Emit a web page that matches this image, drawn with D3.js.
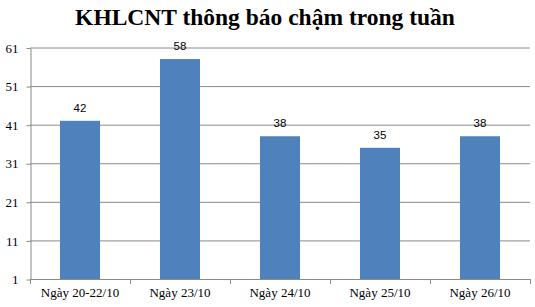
<!DOCTYPE html>
<meta charset="utf-8">
<head>
    <title>KHLCNT thông báo chậm trong tuần</title>
    <style>
        body { margin: 0; background: #fff; }
        .title { font-family: "Liberation Serif", "Times New Roman", serif; font-weight: bold; }
    </style>
</head>
<body>
    <script src="https://cdn.jsdelivr.net/npm/d3@7/dist/d3.min.js"></script>
    <script>
        // data
        var days = ["Ngày 20-22/10", "Ngày 23/10", "Ngày 24/10", "Ngày 25/10", "Ngày 26/10"];
        var counts = [42, 58, 38, 35, 38];
        var yTicks = [1, 11, 21, 31, 41, 51, 61];

        var W = 535, H = 307;
        var margin = { top: 47.5, right: 5, bottom: 28, left: 30 };
        var serif = "'Liberation Serif', 'Times New Roman', serif";

        var svg = d3.select("body").append("svg")
            .attr("width", W)
            .attr("height", H);

        svg.append("text")
            .attr("class", "title")
            .attr("x", 265)
            .attr("y", 25)
            .attr("text-anchor", "middle")
            .style("font-size", "23.5px")
            .attr("fill", "#000")
            .text("KHLCNT thông báo chậm trong tuần");

        var x = d3.scaleBand()
            .domain(days)
            .range([margin.left, W - margin.right])
            .paddingInner(0.6)
            .paddingOuter(0.3);

        var y = d3.scaleLinear()
            .domain([1, 61])
            .range([H - margin.bottom, margin.top]);

        // gridlines
        svg.append("g")
            .selectAll("line")
            .data(yTicks.slice(1))
            .enter().append("line")
            .attr("x1", margin.left)
            .attr("x2", W - margin.right)
            .attr("y1", d => y(d) + 0.5)
            .attr("y2", d => y(d) + 0.5)
            .attr("stroke", "#8a8a8a")
            .attr("stroke-width", 1);

        // y axis
        var yAxis = svg.append("g")
            .attr("transform", "translate(" + (margin.left + 0.5) + ",0.5)")
            .call(d3.axisLeft(y).tickValues(yTicks).tickSize(4).tickPadding(8).tickSizeOuter(0));
        yAxis.attr("font-family", null);
        yAxis.selectAll("line, path").attr("stroke", "#8a8a8a");
        yAxis.selectAll("text")
            .attr("fill", "#000")
            .style("font-family", serif)
            .style("font-size", "13px");

        // bars
        svg.append("g")
            .selectAll("rect")
            .data(counts)
            .enter().append("rect")
            .attr("x", (d, i) => x(days[i]))
            .attr("width", x.bandwidth())
            .attr("y", d => y(d))
            .attr("height", d => y(1) - y(d))
            .attr("fill", "#4f81bd");

        // value labels
        svg.append("g")
            .selectAll("text")
            .data(counts)
            .enter().append("text")
            .attr("x", (d, i) => x(days[i]) + x.bandwidth() / 2)
            .attr("y", d => y(d) - 9)
            .attr("text-anchor", "middle")
            .style("font-family", "'Liberation Sans', Arial, sans-serif")
            .style("font-size", "11.5px")
            .attr("fill", "#000")
            .text(d => d);

        // x axis with boundary ticks
        var xb = d3.scalePoint()
            .domain(d3.range(days.length + 1))
            .range([margin.left, W - margin.right]);
        var xg = svg.append("g");
        xg.append("line")
            .attr("x1", margin.left).attr("x2", W - margin.right)
            .attr("y1", y(1) + 0.5).attr("y2", y(1) + 0.5)
            .attr("stroke", "#8a8a8a");
        xg.selectAll(".bt")
            .data(xb.domain())
            .enter().append("line")
            .attr("x1", d => xb(d) + 0.5).attr("x2", d => xb(d) + 0.5)
            .attr("y1", y(1)).attr("y2", y(1) + 5)
            .attr("stroke", "#8a8a8a");
        xg.selectAll("text")
            .data(days)
            .enter().append("text")
            .attr("x", d => x(d) + x.bandwidth() / 2)
            .attr("y", H - 10)
            .attr("text-anchor", "middle")
            .style("font-family", serif)
            .style("font-size", "13px")
            .attr("fill", "#000")
            .text(d => d);
    </script>
</body>
</html>
